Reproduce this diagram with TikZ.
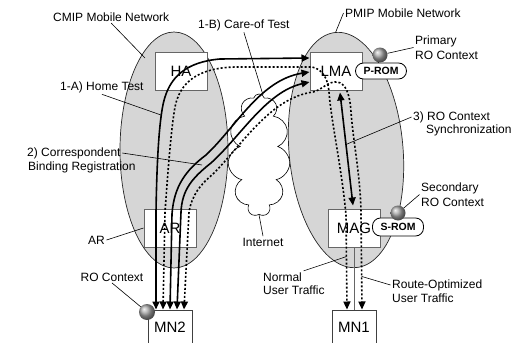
\documentclass[tikz,border=0pt]{standalone}
\usepackage{fontspec}
\setmainfont{Liberation Sans}
\usepackage{tikz}
\usetikzlibrary{arrows.meta,shapes.geometric,shapes.symbols}

\begin{document}
\begin{tikzpicture}[x=1pt,y=-1pt,
net/.style={ellipse,draw=black!85,fill=black!16,line width=0.7pt,inner sep=0pt},
box/.style={rectangle,draw=black!60,fill=white,line width=1pt,minimum width=52pt,minimum height=38pt,inner sep=0pt,font=\fontsize{15}{17}\selectfont},
mn/.style={box,draw=black!75,minimum width=44pt,minimum height=34pt},
rom/.style={rectangle,draw,fill=white,rounded corners=8pt,line width=0.8pt,minimum width=51pt,minimum height=16pt,inner sep=1pt,font=\bfseries\fontsize{10.5}{12}\selectfont},
ball/.style={circle,inner sep=0pt,minimum size=15pt,ball color=black!35},
txt/.style={inner sep=1.5pt,align=left,font=\fontsize{12}{14.5}\selectfont},
lead/.style={line width=0.6pt},
msg/.style={line width=1.6pt,{Triangle[length=8pt,width=7pt]}-{Triangle[length=8pt,width=7pt]}},
data/.style={msg,dash pattern=on 2pt off 2pt}]
\useasboundingbox (0,0) rectangle (512,343);
\node[net,minimum width=108pt,minimum height=236pt] (cmipnet) at (174,150) {};
\node[net,minimum width=114pt,minimum height=236pt,rotate=5] (pmipnet) at (346,150) {};
\node[cloud,cloud puffs=11,aspect=0.5,draw,fill=white,line width=0.6pt,minimum width=62pt,minimum height=122pt] (inet) at (259,155) {};
\foreach \n/\t/\x/\y in %
{ha/HA/181/71,lma/LMA/336/71,ar/AR/170/228,mag/MAG/354/228} {
   \node[box] (\n) at (\x,\y) {\t};
}
\node[mn] (mntwo) at (170,327) {MN2};
\node[mn] (mnone) at (354,327) {MN1};
\node[rom] (prom) at (381,71) {P-ROM};
\node[rom,minimum height=18pt] (srom) at (398,227) {S-ROM};
\draw[black!60,line width=1pt] (mag.south) -- (mnone.north);

\draw[msg] ([xshift=-14pt]mntwo.north) -- (156,212) .. controls (157,150) and (160,112) .. (165,97)
   .. controls (171,78) and (185,62) .. (220,59) -- ([yshift=13pt]lma.west);
\draw[data] ([xshift=-7pt]mntwo.north) -- (165,212) .. controls (168,170) and (171,130) .. (175,107)
   .. controls (180,82) and (198,68) .. (235,67) -- (312,67)
   .. controls (322,69) and (328,78) .. (329,92) .. controls (331,120) and (342,170) .. (346,215)
   -- coordinate[pos=0.44] (normE) ([xshift=-7pt]mnone.north);
\draw[msg] (mntwo.north) -- (172,214) .. controls (174,186) and (186,170) .. (206,155)
   .. controls (236,127) and (260,80) .. ([yshift=-1pt]lma.west);
\draw[msg] ([xshift=7pt]mntwo.north) -- (181,212) .. controls (182,190) and (192,178) .. (211,163)
   .. controls (241,136) and (266,92) .. ([yshift=-11pt]lma.west);
\draw[data] ([xshift=14pt]mntwo.north) -- (189,212) .. controls (192,195) and (200,185) .. (213,174)
   .. controls (242,145) and (270,98) .. (313,92) .. controls (322,90) and (328,81) .. (337,82)
   .. controls (346,83) and (350,95) .. (351,112) .. controls (353,140) and (361,180) .. (361,215)
   -- coordinate[pos=0.65] (routE) ([xshift=8pt]mnone.north);
\draw[msg] ([xshift=4pt,yshift=-2pt]lma.south) -- coordinate[pos=0.46] (syncE) ([xshift=-1pt,yshift=3pt]mag.north);

\node[ball] (pball) at (380,55) {};
\node[ball] (sball) at (398,213) {};
\node[ball,minimum size=16pt] (rball) at (147,312) {};

\node[txt,anchor=west] (cmip) at (51.5,17) {CMIP Mobile Network};
\node[txt,anchor=west] (pmip) at (343.5,13) {PMIP Mobile Network};
\node[txt,anchor=west] (care) at (196.5,25) {1-B) Care-of Test};
\node[txt,anchor=west] (home) at (58.5,87) {1-A) Home Test};
\node[txt,anchor=west] (corr) at (25.5,153) {2) Correspondent};
\node[txt,anchor=west] (bind) at (26.5,167) {Binding Registration};
\node[txt,anchor=west] (prim) at (413.5,47.5) {Primary\\RO Context};
\node[txt,anchor=west] (sync) at (411.5,117) {3) RO Context};
\node[txt,anchor=west] (syncb) at (424.5,130) {Synchronization};
\node[txt,anchor=west] (sec) at (419.5,194.5) {Secondary\\RO Context};
\node[txt,anchor=west] (arl) at (86.5,240) {AR};
\node[txt] (inetl) at (263,242) {Internet};
\node[txt] (roc) at (112,277) {RO Context};
\node[txt,anchor=west] (norm) at (261.5,277) {Normal};
\node[txt,anchor=west] (normb) at (261.5,290) {User Traffic};
\node[txt,anchor=west] (rout) at (390.5,285) {Route-Optimized};
\node[txt,anchor=west] (routb) at (390.5,298) {User Traffic};

\coordinate (cmipE) at (145,58);
\coordinate (careE) at (263,95);
\coordinate (homeE) at (161,115);
\coordinate (corrE) at (202,165);
\foreach \a/\b in %
{cmip.south/cmipE,pmip.west/pmipnet.north,care.south/careE,home.south/homeE,corr.east/corrE,
 prim.west/pball,sync.west/syncE,sec.west/sball,arl.east/ar.west,inet.south/inetl.north,
 roc.south/rball,norm.north east/normE,rout.west/routE} {
   \draw[lead] (\a) -- (\b);
}
\end{tikzpicture}
\end{document}
